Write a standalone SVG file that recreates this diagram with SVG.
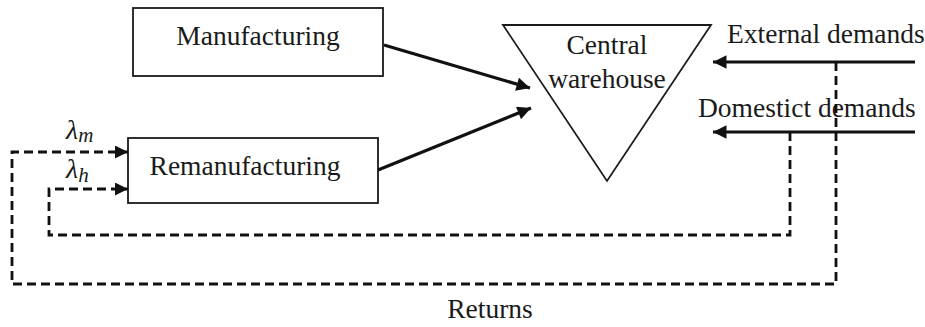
<svg xmlns="http://www.w3.org/2000/svg" width="925" height="327" viewBox="0 0 925 327">
  <defs>
    <marker id="head" viewBox="0 0 10 10" refX="10" refY="5" markerWidth="18" markerHeight="13.5" markerUnits="userSpaceOnUse" orient="auto">
      <path d="M0,0 L10,5 L0,10 z" fill="#111"/>
    </marker>
    <marker id="headSmall" viewBox="0 0 10 10" refX="10" refY="5" markerWidth="16" markerHeight="13" markerUnits="userSpaceOnUse" orient="auto">
      <path d="M0,0 L10,5 L0,10 z" fill="#111"/>
    </marker>
    <style>
      .lbl { font-family: "Liberation Serif", "Times New Roman", serif; font-size: 27.5px; fill: #1a1a1a; }
      .math { font-family: "Liberation Serif", "Times New Roman", serif; font-style: italic; fill: #1a1a1a; }
      .box { fill: #fff; stroke: #1a1a1a; stroke-width: 1.8; }
      .flow { fill: none; stroke: #111; stroke-width: 3.2; marker-end: url(#head); }
      .ret { fill: none; stroke: #111; stroke-width: 2.8; stroke-dasharray: 9 5; marker-end: url(#headSmall); }
    </style>
  </defs>

  <g id="manufacturing">
    <rect class="box" x="133" y="8" width="250" height="68"/>
    <text class="lbl" x="258" y="45" text-anchor="middle">Manufacturing</text>
  </g>

  <g id="remanufacturing">
    <rect class="box" x="128" y="138" width="250" height="65"/>
    <text class="lbl" x="245" y="175" text-anchor="middle">Remanufacturing</text>
  </g>

  <g id="central-warehouse">
    <polygon class="box" points="503,25 711,25 607,181"/>
    <text class="lbl" x="607" y="54" text-anchor="middle">Central</text>
    <text class="lbl" x="607" y="88" text-anchor="middle">warehouse</text>
  </g>

  <g id="external-demands">
    <text class="lbl" x="727" y="43">External demands</text>
  </g>

  <g id="domestic-demands">
    <text class="lbl" x="698" y="117">Domestict demands</text>
  </g>

  <g id="returns-label">
    <text class="lbl" x="490" y="318" text-anchor="middle">Returns</text>
  </g>

  <g id="rate-labels">
    <text class="math" x="66" y="139" font-size="28">λ<tspan font-size="21" dy="3">m</tspan></text>
    <text class="math" x="66" y="178" font-size="28">λ<tspan font-size="21" dy="4">h</tspan></text>
  </g>

  <g id="connectors">
    <line class="flow" x1="384" y1="45" x2="530" y2="88"/>
    <line class="flow" x1="378" y1="170" x2="531" y2="108"/>
    <line class="flow" x1="915" y1="62" x2="713" y2="62"/>
    <line class="flow" x1="915" y1="132" x2="713" y2="132"/>
    <polyline class="ret" points="836,62 836,284 12,284 12,152 128,152"/>
    <polyline class="ret" points="790,132 790,235 49,235 49,189 128,189"/>
  </g>
</svg>
